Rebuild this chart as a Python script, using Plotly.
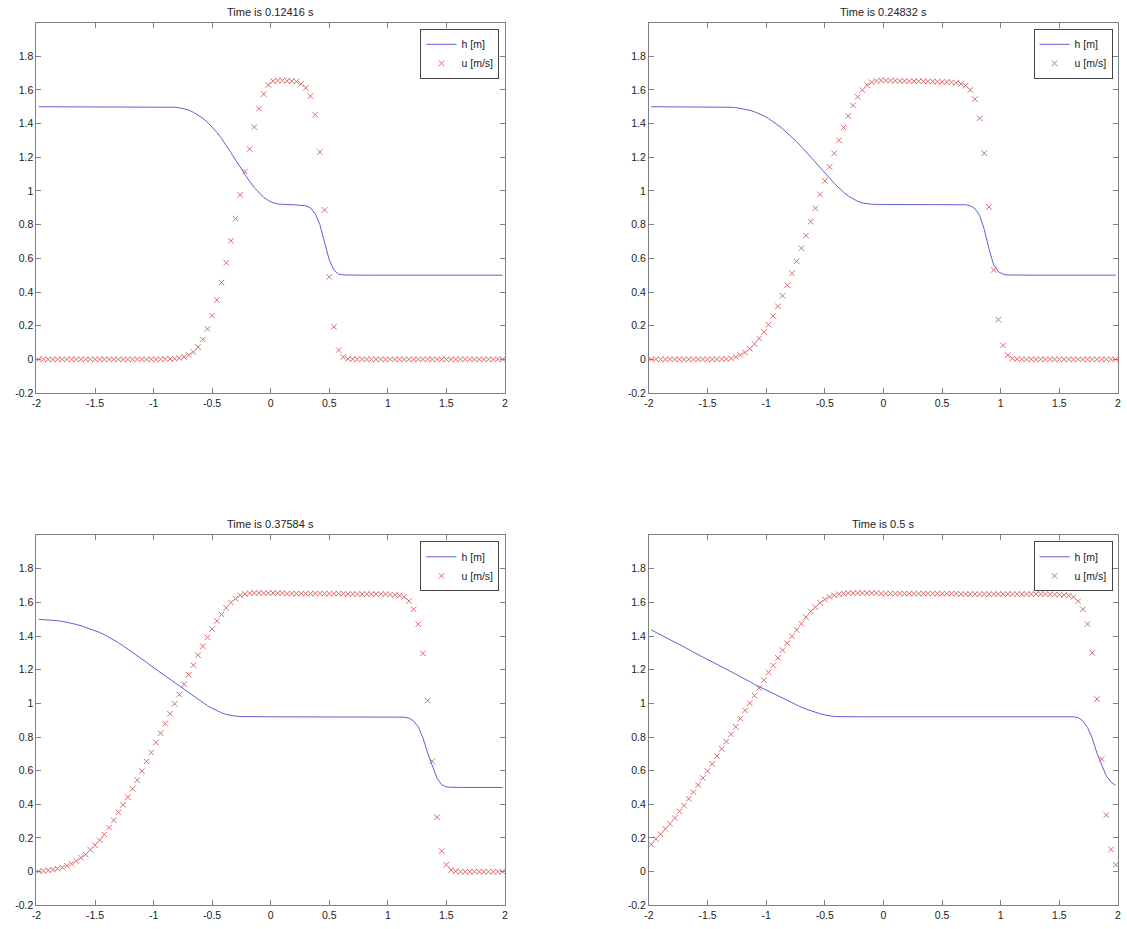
import plotly.graph_objects as go

# grid (cell centres)
x = [-1.98, -1.94, -1.90, -1.86, -1.82, -1.78, -1.74, -1.70, -1.66, -1.62,
     -1.58, -1.54, -1.50, -1.46, -1.42, -1.38, -1.34, -1.30, -1.26, -1.22,
     -1.18, -1.14, -1.10, -1.06, -1.02, -0.98, -0.94, -0.90, -0.86, -0.82,
     -0.78, -0.74, -0.70, -0.66, -0.62, -0.58, -0.54, -0.50, -0.46, -0.42,
     -0.38, -0.34, -0.30, -0.26, -0.22, -0.18, -0.14, -0.10, -0.06, -0.02,
     0.02, 0.06, 0.10, 0.14, 0.18, 0.22, 0.26, 0.30, 0.34, 0.38,
     0.42, 0.46, 0.50, 0.54, 0.58, 0.62, 0.66, 0.70, 0.74, 0.78,
     0.82, 0.86, 0.90, 0.94, 0.98, 1.02, 1.06, 1.10, 1.14, 1.18,
     1.22, 1.26, 1.30, 1.34, 1.38, 1.42, 1.46, 1.50, 1.54, 1.58,
     1.62, 1.66, 1.70, 1.74, 1.78, 1.82, 1.86, 1.90, 1.94, 1.98]

titles = ["Time is 0.12416 s", "Time is 0.24832 s", "Time is 0.37584 s", "Time is 0.5 s"]

h1 = [1.5, 1.5, 1.5, 1.5, 1.5, 1.5, 1.5, 1.5, 1.5, 1.5,
      1.5, 1.5, 1.5, 1.5, 1.5, 1.5, 1.5, 1.5, 1.5, 1.5,
      1.5, 1.5, 1.5, 1.5, 1.5, 1.5, 1.5, 1.5, 1.499, 1.497,
      1.494, 1.489, 1.480, 1.467, 1.452, 1.432, 1.408, 1.380, 1.348, 1.312,
      1.272, 1.228, 1.184, 1.140, 1.097, 1.057, 1.020, 0.988, 0.962, 0.943,
      0.930, 0.923, 0.920, 0.919, 0.919, 0.918, 0.917, 0.912, 0.900, 0.865,
      0.800, 0.700, 0.590, 0.530, 0.506, 0.501, 0.5, 0.5, 0.5, 0.5,
      0.5, 0.5, 0.5, 0.5, 0.5, 0.5, 0.5, 0.5, 0.5, 0.5,
      0.5, 0.5, 0.5, 0.5, 0.5, 0.5, 0.5, 0.5, 0.5, 0.5,
      0.5, 0.5, 0.5, 0.5, 0.5, 0.5, 0.5, 0.5, 0.5, 0.5]
u1 = [0, 0, 0, 0, 0, 0, 0, 0, 0, 0,
      0, 0, 0, 0, 0, 0, 0, 0, 0, 0,
      0, 0, 0, 0, 0, 0, 0, 0.001, 0.002, 0.004,
      0.008, 0.014, 0.026, 0.043, 0.073, 0.118, 0.181, 0.260, 0.352, 0.456,
      0.574, 0.704, 0.836, 0.977, 1.115, 1.249, 1.379, 1.489, 1.575, 1.630,
      1.652, 1.656, 1.656, 1.654, 1.652, 1.650, 1.636, 1.612, 1.563, 1.453,
      1.231, 0.887, 0.490, 0.193, 0.055, 0.014, 0.003, 0.001, 0, 0,
      0, 0, 0, 0, 0, 0, 0, 0, 0, 0,
      0, 0, 0, 0, 0, 0, 0, 0, 0, 0,
      0, 0, 0, 0, 0, 0, 0, 0, 0, 0]

h2 = [1.5, 1.5, 1.5, 1.5, 1.5, 1.5, 1.5, 1.5, 1.5, 1.5,
      1.5, 1.5, 1.5, 1.5, 1.5, 1.499, 1.498, 1.497, 1.495, 1.491,
      1.486, 1.479, 1.470, 1.459, 1.446, 1.430, 1.412, 1.391, 1.369, 1.345,
      1.319, 1.292, 1.263, 1.233, 1.203, 1.172, 1.140, 1.108, 1.077, 1.046,
      1.018, 0.992, 0.970, 0.952, 0.938, 0.929, 0.924, 0.921, 0.920, 0.920,
      0.920, 0.920, 0.920, 0.920, 0.920, 0.920, 0.920, 0.920, 0.920, 0.920,
      0.920, 0.920, 0.920, 0.920, 0.920, 0.920, 0.920, 0.918, 0.912, 0.895,
      0.855, 0.770, 0.655, 0.560, 0.520, 0.506, 0.501, 0.5, 0.5, 0.5,
      0.5, 0.5, 0.5, 0.5, 0.5, 0.5, 0.5, 0.5, 0.5, 0.5,
      0.5, 0.5, 0.5, 0.5, 0.5, 0.5, 0.5, 0.5, 0.5, 0.5]
u2 = [0, 0, 0, 0, 0, 0, 0, 0, 0, 0,
      0, 0, 0, 0, 0, 0.001, 0.002, 0.005, 0.014, 0.026,
      0.041, 0.063, 0.092, 0.124, 0.163, 0.206, 0.258, 0.315, 0.378, 0.440,
      0.511, 0.582, 0.659, 0.735, 0.818, 0.897, 0.979, 1.060, 1.143, 1.223,
      1.300, 1.377, 1.445, 1.508, 1.559, 1.599, 1.628, 1.646, 1.653, 1.656,
      1.656, 1.655, 1.655, 1.654, 1.653, 1.652, 1.652, 1.651, 1.651, 1.650,
      1.650, 1.649, 1.648, 1.647, 1.645, 1.642, 1.636, 1.625, 1.600, 1.545,
      1.432, 1.224, 0.905, 0.531, 0.236, 0.083, 0.024, 0.006, 0.001, 0,
      0, 0, 0, 0, 0, 0, 0, 0, 0, 0,
      0, 0, 0, 0, 0, 0, 0, 0, 0, 0]

h3 = [1.499, 1.498, 1.496, 1.494, 1.491, 1.487, 1.482, 1.476, 1.469, 1.461,
      1.452, 1.443, 1.433, 1.421, 1.408, 1.393, 1.377, 1.360, 1.342, 1.323,
      1.303, 1.283, 1.263, 1.243, 1.222, 1.202, 1.182, 1.162, 1.142, 1.122,
      1.103, 1.083, 1.062, 1.041, 1.021, 1.003, 0.986, 0.970, 0.956, 0.944,
      0.934, 0.928, 0.924, 0.922, 0.921, 0.920, 0.920, 0.920, 0.920, 0.920,
      0.920, 0.920, 0.920, 0.920, 0.920, 0.920, 0.920, 0.920, 0.920, 0.920,
      0.920, 0.920, 0.920, 0.920, 0.920, 0.920, 0.920, 0.920, 0.920, 0.920,
      0.920, 0.920, 0.920, 0.920, 0.920, 0.920, 0.920, 0.920, 0.918, 0.912,
      0.895, 0.860, 0.795, 0.705, 0.630, 0.555, 0.516, 0.504, 0.501, 0.5,
      0.5, 0.5, 0.5, 0.5, 0.5, 0.5, 0.5, 0.5, 0.5, 0.5]
u3 = [0.002, 0.004, 0.008, 0.012, 0.018, 0.024, 0.035, 0.047, 0.063, 0.083,
      0.102, 0.130, 0.157, 0.187, 0.220, 0.262, 0.305, 0.352, 0.397, 0.442,
      0.492, 0.543, 0.598, 0.655, 0.708, 0.767, 0.822, 0.879, 0.938, 0.997,
      1.052, 1.113, 1.170, 1.227, 1.286, 1.339, 1.392, 1.441, 1.489, 1.528,
      1.567, 1.599, 1.622, 1.642, 1.650, 1.654, 1.656, 1.656, 1.655, 1.655,
      1.655, 1.655, 1.655, 1.652, 1.652, 1.652, 1.652, 1.652, 1.652, 1.652,
      1.652, 1.652, 1.652, 1.652, 1.652, 1.652, 1.649, 1.649, 1.649, 1.649,
      1.649, 1.649, 1.649, 1.649, 1.649, 1.646, 1.644, 1.640, 1.632, 1.608,
      1.559, 1.470, 1.297, 1.017, 0.656, 0.323, 0.122, 0.041, 0.010, 0.002,
      0, 0, 0, 0, 0, 0, 0, 0, 0, 0]

h4 = [1.436, 1.422, 1.406, 1.392, 1.377, 1.363, 1.347, 1.333, 1.320, 1.304,
      1.290, 1.274, 1.261, 1.245, 1.231, 1.217, 1.202, 1.188, 1.174, 1.158,
      1.145, 1.129, 1.113, 1.099, 1.086, 1.072, 1.058, 1.044, 1.030, 1.017,
      1.003, 0.989, 0.977, 0.966, 0.956, 0.946, 0.938, 0.931, 0.926, 0.922,
      0.921, 0.920, 0.920, 0.920, 0.920, 0.920, 0.920, 0.920, 0.920, 0.920,
      0.920, 0.920, 0.920, 0.920, 0.920, 0.920, 0.920, 0.920, 0.920, 0.920,
      0.920, 0.920, 0.920, 0.920, 0.920, 0.920, 0.920, 0.920, 0.920, 0.920,
      0.920, 0.920, 0.920, 0.920, 0.920, 0.920, 0.920, 0.920, 0.920, 0.920,
      0.920, 0.920, 0.920, 0.920, 0.920, 0.920, 0.920, 0.920, 0.920, 0.920,
      0.920, 0.915, 0.895, 0.857, 0.792, 0.705, 0.635, 0.568, 0.532, 0.512]
u4 = [0.161, 0.195, 0.222, 0.254, 0.285, 0.319, 0.358, 0.393, 0.433, 0.472,
      0.515, 0.557, 0.598, 0.641, 0.686, 0.730, 0.773, 0.816, 0.861, 0.909,
      0.958, 1.001, 1.046, 1.091, 1.137, 1.184, 1.225, 1.270, 1.316, 1.357,
      1.398, 1.436, 1.473, 1.512, 1.546, 1.571, 1.597, 1.617, 1.632, 1.642,
      1.648, 1.652, 1.655, 1.655, 1.655, 1.655, 1.655, 1.655, 1.655, 1.652,
      1.652, 1.652, 1.652, 1.652, 1.652, 1.652, 1.652, 1.652, 1.652, 1.652,
      1.652, 1.652, 1.652, 1.652, 1.652, 1.652, 1.649, 1.649, 1.649, 1.649,
      1.649, 1.649, 1.649, 1.649, 1.649, 1.649, 1.649, 1.649, 1.649, 1.649,
      1.649, 1.649, 1.649, 1.649, 1.649, 1.648, 1.647, 1.646, 1.644, 1.640,
      1.632, 1.607, 1.559, 1.471, 1.300, 1.025, 0.669, 0.336, 0.132, 0.041]

x_ticks = [-2, -1.5, -1, -0.5, 0, 0.5, 1, 1.5, 2]
x_ticklabels = ["-2", "-1.5", "-1", "-0.5", "0", "0.5", "1", "1.5", "2"]
y_ticks = [-0.2, 0, 0.2, 0.4, 0.6, 0.8, 1.0, 1.2, 1.4, 1.6, 1.8]
y_ticklabels = ["-0.2", "0", "0.2", "0.4", "0.6", "0.8", "1", "1.2", "1.4", "1.6", "1.8"]

H = [h1, h2, h3, h4]
U = [u1, u2, u3, u4]

W, HT = 1127, 929
FONT = "Liberation Sans, Arial, Helvetica, sans-serif"
LINE_C = "rgb(95,95,215)"
MARK_C = "rgb(222,105,105)"
AX_C = "#808080"

# panel boxes in pixels: (left, right, top, bottom)
boxes = [(31.7, 503.5, 22.7, 395.6), (648.5, 1121.0, 22.7, 395.6),
         (31.7, 503.5, 538.5, 911.2), (648.5, 1121.0, 538.5, 911.2)]

fig = go.Figure()
layout = dict(width=W, height=HT, margin=dict(l=0, r=0, t=0, b=0),
              paper_bgcolor="white", plot_bgcolor="white",
              font=dict(family=FONT, size=10, color="#222222"),
              annotations=[])

for k in range(4):
    n = "" if k == 0 else str(k + 1)
    leg = "legend" if k == 0 else "legend" + str(k + 1)
    fig.add_trace(go.Scatter(x=x, y=H[k], mode="lines", name="h [m]",
                             line=dict(color=LINE_C, width=1),
                             xaxis="x" + n, yaxis="y" + n, legend=leg))
    fig.add_trace(go.Scatter(x=x, y=U[k], mode="markers", name="u [m/s]",
                             marker=dict(symbol="x-thin", size=5.5, color=MARK_C,
                                         line=dict(color=MARK_C, width=1)),
                             xaxis="x" + n, yaxis="y" + n, legend=leg))
    l, r, t, b = boxes[k]
    xd = [l / W, r / W]
    yd = [1 - b / HT, 1 - t / HT]
    common = dict(showline=True, linecolor=AX_C, linewidth=1, mirror="ticks",
                  ticks="inside", ticklen=5, tickcolor=AX_C, tickwidth=1,
                  showgrid=False, zeroline=False,
                  tickfont=dict(family=FONT, size=10.5, color="#222222"))
    layout["xaxis" + n] = dict(domain=xd, range=[-2, 2], anchor="y" + n,
                               tickvals=x_ticks, ticktext=x_ticklabels, **common)
    layout["yaxis" + n] = dict(domain=yd, range=[-0.2, 2.0], anchor="x" + n,
                               tickvals=y_ticks, ticktext=y_ticklabels, **common)
    layout["annotations"].append(dict(text=titles[k], x=(xd[0] + xd[1]) / 2,
                                      y=1 - (t - 11) / HT, xref="paper", yref="paper",
                                      xanchor="center", yanchor="middle", showarrow=False,
                                      font=dict(family=FONT, size=11, color="#222222")))
    layout[leg] = dict(x=(r - 5.5) / W, y=1 - (t + 6.3) / HT, xanchor="right", yanchor="top",
                       bgcolor="white", bordercolor="#444444", borderwidth=1,
                       font=dict(family=FONT, size=10.5, color="#222222"),
                       tracegroupgap=0, itemwidth=30)

fig.update_layout(**layout)
fig.write_html("out.html", config={"displayModeBar": False},
               post_script="document.body.style.margin='0px';document.body.style.overflow='hidden';")
